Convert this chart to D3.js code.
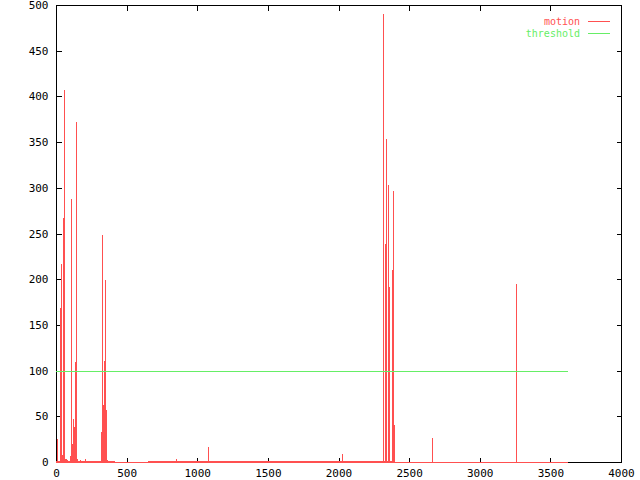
<!DOCTYPE html>
<html>
<head>
<meta charset="utf-8">
<script src="https://cdnjs.cloudflare.com/ajax/libs/d3/7.8.5/d3.min.js"></script>
<style>
  body { margin: 0; background: #fff; }
  svg { display: block; }
  text { font-family: "DejaVu Sans Mono", "Liberation Mono", monospace; font-size: 11px; }
</style>
</head>
<body>
<script>
// motion impulses: [frame, value]
var motionSpikes = [
  [7, 25], [31, 168], [38, 217], [45, 8], [52, 267], [59, 407], [66, 3], [73, 3], [80, 2],
  [101, 7], [109, 288], [116, 20], [123, 47], [130, 38], [137, 109], [144, 372], [151, 3],
  [170, 2], [205, 3], [321, 33], [328, 248], [336, 62], [343, 111], [350, 199], [357, 57],
  [364, 2], [850, 3], [1078, 16], [2023, 9], [2314, 490], [2328, 239], [2335, 353],
  [2350, 303], [2357, 192], [2378, 210], [2385, 296], [2392, 41], [2665, 26], [3260, 195]
];
// low level background motion: [from frame, to frame, value]
var motionRuns = [[0, 420, 1], [420, 650, 0], [650, 2400, 1], [2400, 3625, 0]];
var threshold = [[0, 100], [3625, 100]];
var xTicks = [0, 500, 1000, 1500, 2000, 2500, 3000, 3500, 4000];
var yTicks = [0, 50, 100, 150, 200, 250, 300, 350, 400, 450, 500];

var RED = "#ff5050", GREEN = "#66ee66";
var FONT = "'DejaVu Sans Mono', 'Liberation Mono', monospace";

var svg = d3.select("body").append("svg")
    .attr("width", 640)
    .attr("height", 480)
    .attr("shape-rendering", "crispEdges");

var M = { left: 56, right: 621, top: 5, bottom: 462 };
var x = d3.scaleLinear().domain([0, 4000]).range([M.left, M.right]);
var y = d3.scaleLinear().domain([0, 500]).range([M.bottom, M.top]);

// axes (ticks point inward like gnuplot)
svg.append("g")
    .attr("transform", "translate(0," + (M.bottom + 0.5) + ")")
    .call(d3.axisBottom(x).tickValues(xTicks).tickSize(-5).tickPadding(7).tickFormat(d3.format("d")));
svg.append("g")
    .attr("transform", "translate(" + (M.left + 0.5) + ",0)")
    .call(d3.axisLeft(y).tickValues(yTicks).tickSize(-5).tickPadding(8).tickFormat(d3.format("d")));
svg.append("g")
    .attr("transform", "translate(0," + (M.top + 0.5) + ")")
    .call(d3.axisTop(x).tickValues(xTicks).tickSize(-5).tickFormat(""));
svg.append("g")
    .attr("transform", "translate(" + (M.right + 0.5) + ",0)")
    .call(d3.axisRight(y).tickValues(yTicks.slice(1, -1)).tickSize(-5).tickFormat(""));
svg.selectAll(".domain").remove();
svg.selectAll(".tick line").attr("stroke", "#000");
svg.selectAll(".tick text").attr("fill", "#000")
    .style("font-size", "11px")
    .style("font-family", FONT);

// border
svg.append("rect")
    .attr("x", M.left + 0.5)
    .attr("y", M.top + 0.5)
    .attr("width", M.right - M.left)
    .attr("height", M.bottom - M.top)
    .attr("fill", "none")
    .attr("stroke", "#000");

// background motion level
svg.selectAll(".run")
    .data(motionRuns)
  .enter().append("rect")
    .attr("class", "run")
    .attr("x", function(d) { return Math.round(x(d[0])); })
    .attr("width", function(d) { return Math.round(x(d[1])) - Math.round(x(d[0])); })
    .attr("y", function(d) { return Math.round(y(d[2])); })
    .attr("height", function(d) { return Math.round(y(0)) - Math.round(y(d[2])) + 1; })
    .attr("fill", RED);

// impulses
svg.selectAll(".imp")
    .data(motionSpikes)
  .enter().append("line")
    .attr("class", "imp")
    .attr("x1", function(d) { return Math.round(x(d[0])) + 0.5; })
    .attr("x2", function(d) { return Math.round(x(d[0])) + 0.5; })
    .attr("y1", y(0) + 1)
    .attr("y2", function(d) { return Math.round(y(d[1])); })
    .attr("stroke", RED)
    .attr("stroke-width", 1);

// threshold
svg.append("path")
    .attr("d", d3.line()
        .x(function(d) { return x(d[0]); })
        .y(function(d) { return Math.round(y(d[1])) + 0.5; })(threshold))
    .attr("fill", "none")
    .attr("stroke", GREEN)
    .attr("stroke-width", 1);

// legend
var legend = [["motion", RED, 21], ["threshold", GREEN, 33]];
legend.forEach(function(l) {
  svg.append("text")
    .attr("x", 580)
    .attr("y", l[2])
    .attr("dy", ".35em")
    .style("text-anchor", "end")
    .style("font-family", FONT)
    .style("font-size", "10px")
    .attr("fill", l[1])
    .text(l[0]);
  svg.append("line")
    .attr("x1", 588)
    .attr("x2", 610)
    .attr("y1", l[2] + 0.5)
    .attr("y2", l[2] + 0.5)
    .attr("stroke", l[1]);
});
</script>
</body>
</html>
